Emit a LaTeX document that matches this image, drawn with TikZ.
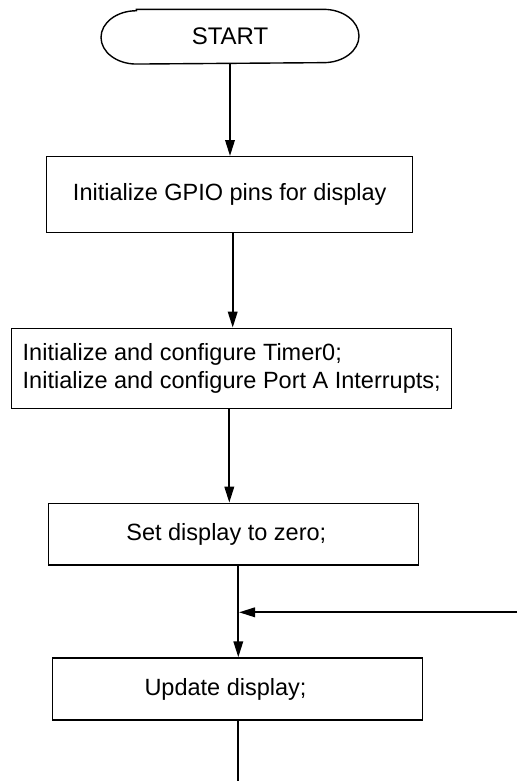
\documentclass[tikz,border=0pt]{standalone}
\usepackage{fontspec}
\setmainfont{Liberation Sans}
\usetikzlibrary{arrows.meta}
\begin{document}
\begin{tikzpicture}[x=1pt,y=-1pt,
  box/.style={draw, line width=1.4pt, inner sep=0pt, font=\fontsize{23.5}{28}\selectfont},
  flow/.style={line width=2pt, -{Triangle[length=16pt,width=9.5pt]}},
  plain/.style={line width=2pt}]
\useasboundingbox (0,0) rectangle (517,781);

% terminal: START
\node[box, draw=none, minimum width=256.6pt, minimum height=53.3pt,
      font=\fontsize{24}{28}\selectfont] (start) at (230,36.7) {START};
\draw[line width=1.4pt]
  ([xshift=35.3pt]start.north west) -- ([xshift=-35.3pt]start.north east)
  arc[start angle=90, end angle=-90, x radius=35.3pt, y radius=26.65pt]
  -- ([xshift=35.3pt]start.south west)
  arc[start angle=270, end angle=90, x radius=35.3pt, y radius=26.65pt]
  -- cycle;

% process steps
\node[box, minimum width=366pt, minimum height=76pt] (gpio) at (229.7,194.7)
  {Initialize GPIO pins for display};
\node[box, minimum width=440pt, minimum height=80pt, align=left] (init) at (231.7,368.3)
  {Initialize and configure Timer0;\\Initialize and configure Port A Interrupts;};
\node[box, minimum width=370pt, minimum height=61.7pt] (zero) at (233.3,534.2)
  {\hspace*{-14pt}Set display to zero;};
\node[box, minimum width=369.6pt, minimum height=62pt] (update) at (237.5,689)
  {\hspace*{-24pt}Update display;};

% connector end points
\coordinate (g1) at ([xshift=3pt]gpio.south);
\coordinate (i1) at ([xshift=-2.4pt]init.south);
\coordinate (z1) at ([xshift=5pt]zero.south);
\coordinate (merge) at (239,612.3);
\coordinate (loop) at (517,612.3);
\coordinate (exit) at (238.3,781);

% connectors
\draw[flow] (start.south) -- (start.south |- gpio.north);
\draw[flow] (g1) -- (g1 |- init.north);
\draw[flow] (i1) -- (i1 |- zero.north);
\draw[flow] (z1) -- (z1 |- update.north);
\draw[flow] (loop) -- (merge);
\draw[plain] (z1 |- update.south) -- (exit);
\end{tikzpicture}
\end{document}
